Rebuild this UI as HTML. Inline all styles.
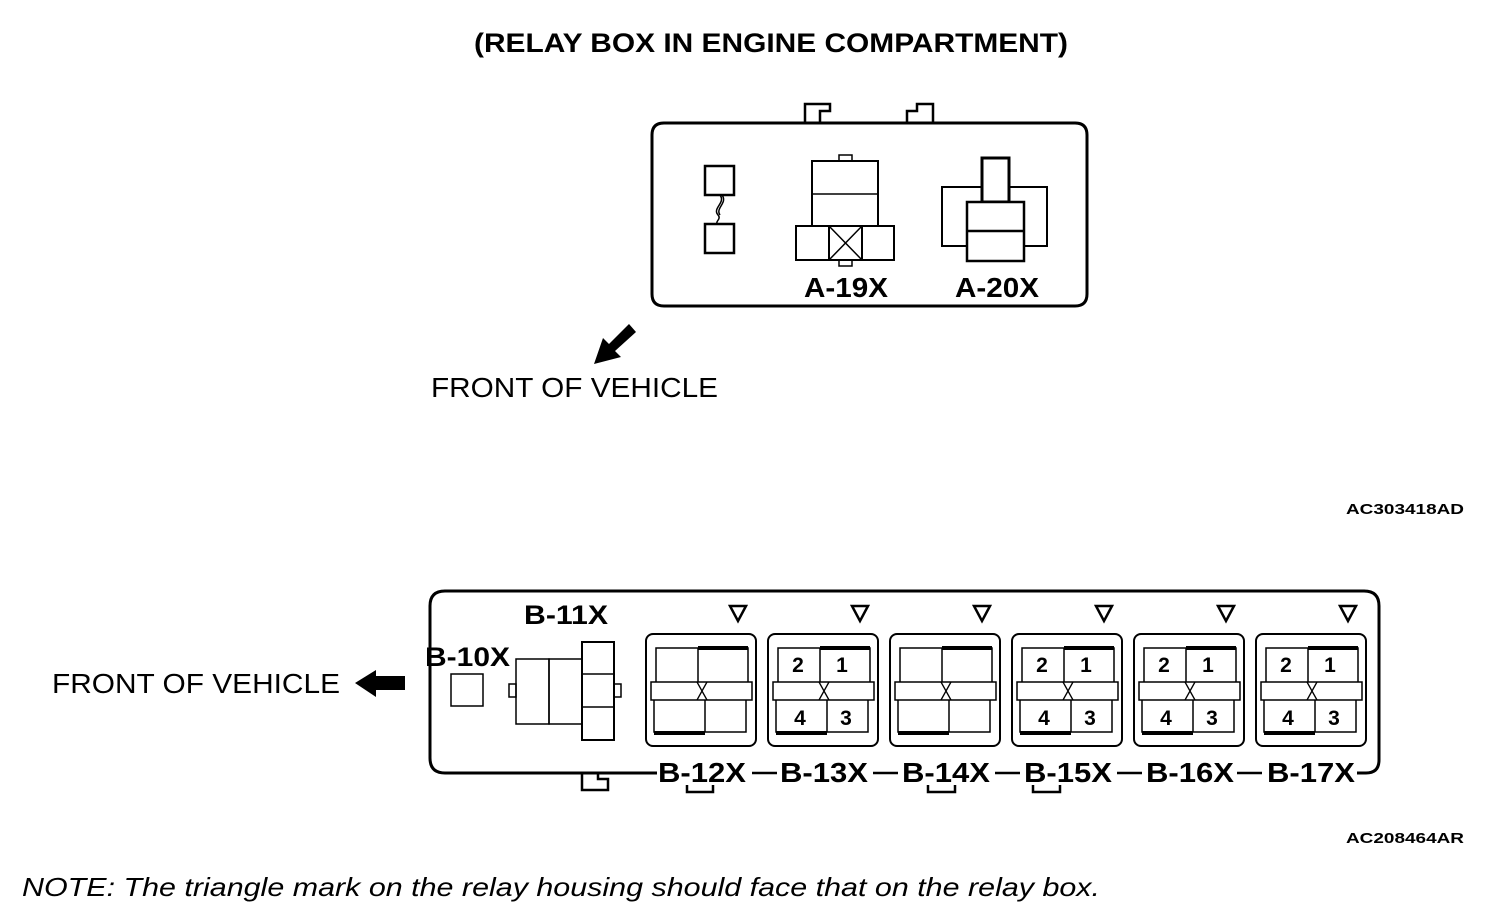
<!DOCTYPE html>
<html><head><style>body{margin:0;background:#fff}svg{display:block}text{font-family:"Liberation Sans",Arial,sans-serif}</style></head><body>
<svg width="1504" height="924" viewBox="0 0 1504 924" xmlns="http://www.w3.org/2000/svg">
<g fill="none" stroke="#000">
<text x="474" y="52" font-size="27" font-weight="bold" textLength="594" lengthAdjust="spacingAndGlyphs" fill="#000" stroke="none">(RELAY BOX IN ENGINE COMPARTMENT)</text>
<path d="M664 123 H1075 Q1087 123 1087 135 V294 Q1087 306 1075 306 H664 Q652 306 652 294 V135 Q652 123 664 123 Z" stroke-width="3"/>
<path d="M805 123 V104 H830 V111 H820 V123 M907 123 V111 H917 V104 H933 V123" stroke-width="2.5"/>
<rect x="705" y="166" width="29" height="29" stroke-width="2.5"/>
<rect x="705" y="224" width="29" height="29" stroke-width="2.5"/>
<path d="M720 195 C726 203 712 208 718 215 C722 219 714 222 718 224 M722 195 C728 203 715 208 720 215" stroke-width="1.5"/>
<rect x="812" y="161" width="66" height="65" stroke-width="2"/><line x1="812" y1="194" x2="878" y2="194" stroke-width="1.5"/>
<rect x="839" y="155" width="13" height="6" stroke-width="1.5"/>
<rect x="796" y="226" width="98" height="34" stroke-width="2"/>
<rect x="829" y="226" width="33" height="34" stroke-width="2"/>
<path d="M829 226 L862 260 M862 226 L829 260" stroke-width="1.5"/>
<rect x="839" y="260" width="13" height="6" stroke-width="1.5"/>
<rect x="942" y="187" width="105" height="59" stroke-width="2"/>
<rect x="982" y="158" width="27" height="44" stroke-width="3" fill="#fff"/>
<rect x="967" y="202" width="57" height="59" stroke-width="2.5" fill="#fff"/>
<line x1="967" y1="231" x2="1024" y2="231" stroke-width="2.5"/>
<text x="804" y="297" font-size="28" font-weight="bold" textLength="84" lengthAdjust="spacingAndGlyphs" fill="#000" stroke="none">A-19X</text>
<text x="955" y="297" font-size="28" font-weight="bold" textLength="84" lengthAdjust="spacingAndGlyphs" fill="#000" stroke="none">A-20X</text>
<path d="M636 332 L615 351 L621 357 L594 364 L603 338 L609 344 L629 324 Z" fill="#000" stroke="none"/>
<text x="431" y="397" font-size="28" textLength="287" lengthAdjust="spacingAndGlyphs" fill="#000" stroke="none">FRONT OF VEHICLE</text>
<text x="1346" y="514" font-size="15" font-weight="bold" textLength="118" lengthAdjust="spacingAndGlyphs" fill="#000" stroke="none">AC303418AD</text>
<text x="52" y="693" font-size="28" textLength="288" lengthAdjust="spacingAndGlyphs" fill="#000" stroke="none">FRONT OF VEHICLE</text>
<path d="M355 683 L376 670 V676 H405 V690 H376 V697 Z" fill="#000" stroke="none"/>
<path d="M657 773 H445 Q430 773 430 758 V606 Q430 591 445 591 H1364 Q1379 591 1379 606 V760 Q1379 773 1366 773 H1357" stroke-width="3"/>
<path d="M752 773 H777 M873 773 H898 M995 773 H1020 M1117 773 H1142 M1237 773 H1262" stroke-width="2.5"/>
<path d="M582 773 V790 H608 V779 H598 V773" stroke-width="2.5"/>
<path d="M687 785 V792 H713 V785 M928 785 V792 H955 V785 M1033 785 V792 H1060 V785" stroke-width="2.5"/>
<rect x="451" y="674" width="32" height="32" stroke-width="1.5"/>
<rect x="516" y="659" width="33" height="65" stroke-width="1.5"/>
<rect x="549" y="659" width="33" height="65" stroke-width="1.5"/>
<rect x="582" y="642" width="32" height="98" stroke-width="2"/>
<path d="M582 674 H614 M582 707 H614" stroke-width="1.5"/>
<rect x="509" y="684" width="7" height="13" stroke-width="1.5"/>
<rect x="614" y="684" width="7" height="13" stroke-width="1.5"/>
<text x="425" y="666" font-size="27" font-weight="bold" textLength="85" lengthAdjust="spacingAndGlyphs" fill="#000" stroke="none">B-10X</text>
<text x="524" y="624" font-size="27" font-weight="bold" textLength="84" lengthAdjust="spacingAndGlyphs" fill="#000" stroke="none">B-11X</text>
<g id="m">
<path d="M730 606 H746 L738 621 Z" stroke-width="2.5"/>
<rect x="646" y="634" width="110" height="112" rx="7" stroke-width="2"/>
<path d="M656 682 V648 H748 V682 M698 648 V682" stroke-width="1.5"/>
<line x1="698" y1="648" x2="748" y2="648" stroke-width="4"/>
<rect x="651" y="682" width="101" height="18" stroke-width="1.5"/>
<path d="M654 700 V732 H746 V700 M705 700 V732" stroke-width="1.5"/>
<line x1="654" y1="733" x2="705" y2="733" stroke-width="4"/>
<path d="M697 682 L707 700 M707 682 L697 700" stroke-width="1.3"/>
</g>
<use href="#m" x="122"/><use href="#m" x="244"/><use href="#m" x="366"/><use href="#m" x="488"/><use href="#m" x="610"/>
<g font-size="21" font-weight="bold" fill="#000" stroke="none" text-anchor="middle">
<text x="798" y="672">2</text><text x="842" y="672">1</text><text x="800" y="725">4</text><text x="846" y="725">3</text>
<text x="1042" y="672">2</text><text x="1086" y="672">1</text><text x="1044" y="725">4</text><text x="1090" y="725">3</text>
<text x="1164" y="672">2</text><text x="1208" y="672">1</text><text x="1166" y="725">4</text><text x="1212" y="725">3</text>
<text x="1286" y="672">2</text><text x="1330" y="672">1</text><text x="1288" y="725">4</text><text x="1334" y="725">3</text>
</g>
<g font-size="28" font-weight="bold" fill="#000" stroke="none" lengthAdjust="spacingAndGlyphs">
<text x="658" y="782" textLength="88" lengthAdjust="spacingAndGlyphs">B-12X</text>
<text x="780" y="782" textLength="88" lengthAdjust="spacingAndGlyphs">B-13X</text>
<text x="902" y="782" textLength="88" lengthAdjust="spacingAndGlyphs">B-14X</text>
<text x="1024" y="782" textLength="88" lengthAdjust="spacingAndGlyphs">B-15X</text>
<text x="1146" y="782" textLength="88" lengthAdjust="spacingAndGlyphs">B-16X</text>
<text x="1267" y="782" textLength="88" lengthAdjust="spacingAndGlyphs">B-17X</text>
</g>
<text x="1346" y="843" font-size="15" font-weight="bold" textLength="118" lengthAdjust="spacingAndGlyphs" fill="#000" stroke="none">AC208464AR</text>
<text x="22" y="896" font-size="26" font-style="italic" textLength="1078" lengthAdjust="spacingAndGlyphs" fill="#000" stroke="none">NOTE: The triangle mark on the relay housing should face that on the relay box.</text>
</g>
</svg>
</body></html>
